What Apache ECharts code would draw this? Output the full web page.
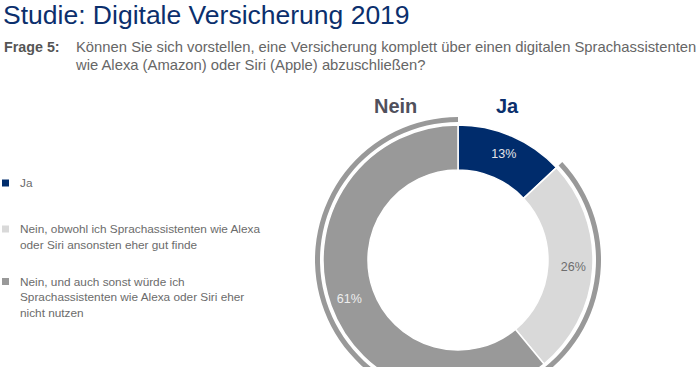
<!DOCTYPE html>
<html>
<head>
<meta charset="utf-8">
<script src="https://cdn.jsdelivr.net/npm/echarts@6/dist/echarts.min.js"></script>
<style>
html,body{margin:0;padding:0;background:#fff;}
#chart{width:700px;height:367px;}
</style>
</head>
<body>
<div id="chart"></div>
<script>
const titleText = 'Studie: Digitale Versicherung 2019';
const questionLabel = 'Frage 5:';
const questionText = 'Können Sie sich vorstellen, eine Versicherung komplett über einen digitalen Sprachassistenten\nwie Alexa (Amazon) oder Siri (Apple) abzuschließen?';
const categories = [
  'Ja',
  'Nein, obwohl ich Sprachassistenten wie Alexa oder Siri ansonsten eher gut finde',
  'Nein, und auch sonst würde ich Sprachassistenten wie Alexa oder Siri eher nicht nutzen'
];
const legendLines = [
  ['Ja'],
  ['Nein, obwohl ich Sprachassistenten wie Alexa', 'oder Siri ansonsten eher gut finde'],
  ['Nein, und auch sonst würde ich', 'Sprachassistenten wie Alexa oder Siri eher', 'nicht nutzen']
];
const values = [13, 26, 61];
const ringNames = ['Ja', 'Nein'];
const ringValues = [values[0], values[1] + values[2]];

const colors = ['#002c6c', '#d9d9d9', '#999999'];
const labelColors = ['#e4e4e8', '#6e6e6e', '#eeeeee'];
const FONT = '"Liberation Sans", Arial, Helvetica, sans-serif';
const LH = 15.5;
const legendIconCenters = [183, 229, 281.5];

const chart = echarts.init(document.getElementById('chart'), null, {renderer: 'svg'});

const legends = categories.map((name, i) => {
  const n = legendLines[i].length;
  // leading empty lines keep the first text line level with the square
  const txt = '\n'.repeat(n - 1) + legendLines[i].join('\n');
  return {
    data: [name],
    orient: 'vertical',
    left: 0,
    top: legendIconCenters[i] - (2 * n - 1) * LH / 2,
    padding: 0,
    icon: 'rect',
    itemWidth: 9,
    itemHeight: 9,
    itemGap: 0,
    selectedMode: false,
    formatter: () => txt,
    textStyle: {
      fontFamily: FONT,
      fontSize: 11.8,
      color: '#6b6b6b',
      lineHeight: LH,
      padding: [0, 0, 0, 5]
    }
  };
});

const option = {
  backgroundColor: '#ffffff',
  animation: false,
  title: [
    {text: titleText, left: 3, top: 0, padding: 0,
     textStyle: {fontFamily: FONT, fontSize: 26.5, fontWeight: 'normal', color: '#0b2f6d', lineHeight: 30}},
    {text: questionLabel, left: 4, top: 38, padding: 0,
     textStyle: {fontFamily: FONT, fontSize: 14.3, fontWeight: 'bold', color: '#555555', lineHeight: 18}},
    {text: questionText, left: 76, top: 38, padding: 0,
     textStyle: {fontFamily: FONT, fontSize: 14.8, fontWeight: 'normal', color: '#666666', lineHeight: 18}},
    {text: 'Nein', left: 374, top: 96, padding: 0,
     textStyle: {fontFamily: FONT, fontSize: 20, fontWeight: 'bold', color: '#50505c'}},
    {text: 'Ja', left: 496, top: 96, padding: 0,
     textStyle: {fontFamily: FONT, fontSize: 20, fontWeight: 'bold', color: '#0b2f6d'}}
  ],
  legend: legends,
  color: colors,
  series: [
    {
      type: 'pie',
      name: 'Antworten',
      center: [458, 260],
      radius: [90, 135],
      startAngle: 90,
      clockwise: true,
      silent: true,
      emphasis: {disabled: true},
      itemStyle: {borderColor: '#ffffff', borderWidth: 1.5},
      label: {
        show: true,
        position: 'inside',
        formatter: '{c}%',
        fontFamily: FONT,
        fontSize: 12.5
      },
      labelLine: {show: false},
      data: categories.map((name, i) => ({
        name: name,
        value: values[i],
        itemStyle: {color: colors[i]},
        label: {color: labelColors[i]}
      }))
    },
    {
      type: 'pie',
      name: 'Gesamt',
      center: [458, 260],
      radius: [138, 143],
      startAngle: 90,
      clockwise: true,
      silent: true,
      emphasis: {disabled: true},
      label: {show: false},
      labelLine: {show: false},
      data: ringNames.map((name, i) => ({
        name: 'Gesamt ' + name,
        value: ringValues[i],
        itemStyle: {color: i === 0 ? 'rgba(0,0,0,0)' : '#999999'}
      }))
    }
  ]
};
chart.setOption(option);
</script>
</body>
</html>
